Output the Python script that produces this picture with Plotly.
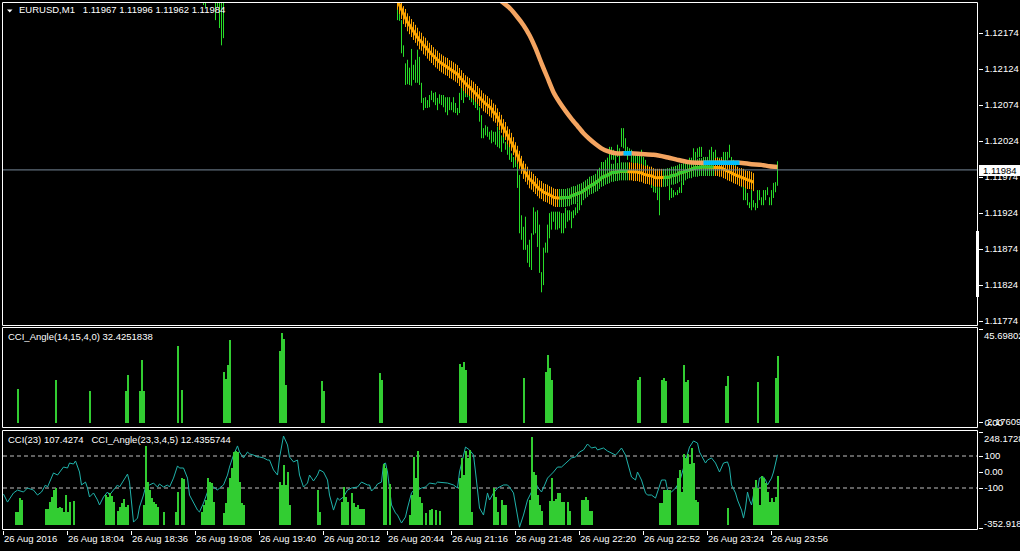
import plotly.graph_objects as go

W, H = 1020, 551


def px(x):
    return x / W


def py(y):
    return 1 - y / H


# one bar per minute, bar 0 = 26 Aug 2016 17:32
tick_idx = [0, 32, 64, 96, 128, 160, 192, 224, 256, 288, 320, 352, 384]
tick_txt = ['26 Aug 2016', '26 Aug 18:04', '26 Aug 18:36', '26 Aug 19:08', '26 Aug 19:40',
            '26 Aug 20:12', '26 Aug 20:44', '26 Aug 21:16', '26 Aug 21:48', '26 Aug 22:20',
            '26 Aug 22:52', '26 Aug 23:24', '26 Aug 23:56']

price_ticks = [1.11774, 1.11824, 1.11874, 1.11924, 1.11974, 1.12024, 1.12074, 1.12124, 1.12174]
last_close = 1.11984

# price bars that dip into view early on
early_idx = [97, 100, 101, 106, 107, 108, 109, 110]
early_high = [1.12238, 1.12241, 1.12236, 1.12244, 1.12239, 1.12235, 1.12230, 1.12233]
early_low = [1.12216, 1.12213, 1.12209, 1.12192, 1.12210, 1.12181, 1.12157, 1.12167]

# price bars from bar 197 to 387
bar_start = 197
highs = [
    1.12227, 1.12224, 1.12192, 1.12157, 1.12132, 1.12137, 1.12126, 1.12152, 1.12130, 1.12137,
    1.12151, 1.12141, 1.12105, 1.12084, 1.12085, 1.12081, 1.12088, 1.12094, 1.12091, 1.12092,
    1.12084, 1.12089, 1.12088, 1.12088, 1.12085, 1.12085, 1.12085, 1.12078, 1.12085, 1.12077,
    1.12070, 1.12091, 1.12099, 1.12102, 1.12099, 1.12102, 1.12092, 1.12095, 1.12088, 1.12087,
    1.12085, 1.12071, 1.12060, 1.12042, 1.12046, 1.12044, 1.12037, 1.12039, 1.12037, 1.12037,
    1.12044, 1.12039, 1.12032, 1.12030, 1.12023, 1.12023, 1.12016, 1.12007, 1.12002, 1.12007,
    1.11998, 1.11977, 1.11921, 1.11905, 1.11919, 1.11880, 1.11887, 1.11896, 1.11932, 1.11926,
    1.11928, 1.11908, 1.11842, 1.11876, 1.11883, 1.11908, 1.11924, 1.11926, 1.11926, 1.11926,
    1.11926, 1.11926, 1.11924, 1.11924, 1.11931, 1.11928, 1.11928, 1.11926, 1.11928, 1.11932,
    1.11938, 1.11942, 1.11949, 1.11956, 1.11959, 1.11963, 1.11967, 1.11973, 1.11976, 1.11978,
    1.11984, 1.11987, 1.11995, 1.11995, 1.11998, 1.12001, 1.12016, 1.12016, 1.12012, 1.12009,
    1.12019, 1.12014, 1.12042, 1.12042, 1.12028, 1.12016, 1.12014, 1.12012, 1.12007, 1.12005,
    1.12007, 1.12007, 1.12012, 1.12002, 1.11998, 1.11991, 1.11984, 1.11974, 1.11974, 1.11967,
    1.11960, 1.11960, 1.11980, 1.11980, 1.11981, 1.11977, 1.11970, 1.11959, 1.11956, 1.11953,
    1.11956, 1.11960, 1.11967, 1.11977, 1.11981, 1.11987, 1.12001, 1.12001, 1.12014, 1.12009,
    1.12014, 1.12016, 1.12016, 1.12002, 1.12002, 1.12002, 1.12012, 1.12016, 1.12009, 1.12012,
    1.12002, 1.12001, 1.12002, 1.12009, 1.12009, 1.12009, 1.12019, 1.12002, 1.11998, 1.11991,
    1.11988, 1.11984, 1.11980, 1.11963, 1.11963, 1.11952, 1.11939, 1.11956, 1.11942, 1.11938,
    1.11956, 1.11956, 1.11946, 1.11956, 1.11956, 1.11960, 1.11946, 1.11956, 1.11966, 1.11967,
    1.11996,
]
lows = [
    1.12192, 1.12191, 1.12146, 1.12141, 1.12102, 1.12103, 1.12102, 1.12101, 1.12109, 1.12105,
    1.12105, 1.12102, 1.12077, 1.12067, 1.12070, 1.12070, 1.12071, 1.12081, 1.12078, 1.12074,
    1.12067, 1.12076, 1.12074, 1.12071, 1.12064, 1.12060, 1.12067, 1.12067, 1.12064, 1.12063,
    1.12060, 1.12063, 1.12081, 1.12077, 1.12085, 1.12085, 1.12081, 1.12078, 1.12074, 1.12070,
    1.12067, 1.12051, 1.12028, 1.12028, 1.12032, 1.12030, 1.12026, 1.12021, 1.12023, 1.12019,
    1.12016, 1.12014, 1.12009, 1.12021, 1.12012, 1.12005, 1.11998, 1.11995, 1.11987, 1.11988,
    1.11959, 1.11896, 1.11887, 1.11873, 1.11873, 1.11855, 1.11849, 1.11845, 1.11894, 1.11896,
    1.11877, 1.11841, 1.11814, 1.11824, 1.11869, 1.11869, 1.11889, 1.11901, 1.11912, 1.11901,
    1.11901, 1.11903, 1.11896, 1.11896, 1.11903, 1.11912, 1.11914, 1.11903, 1.11917, 1.11921,
    1.11924, 1.11928, 1.11935, 1.11942, 1.11945, 1.11949, 1.11953, 1.11956, 1.11959, 1.11962,
    1.11967, 1.11973, 1.11980, 1.11980, 1.11981, 1.11984, 1.11988, 1.11998, 1.11998, 1.11991,
    1.12002, 1.11994, 1.12016, 1.12014, 1.12007, 1.11998, 1.12005, 1.11995, 1.11988, 1.11991,
    1.11988, 1.11988, 1.11988, 1.11980, 1.11984, 1.11977, 1.11970, 1.11959, 1.11953, 1.11952,
    1.11942, 1.11921, 1.11960, 1.11966, 1.11967, 1.11963, 1.11942, 1.11945, 1.11946, 1.11949,
    1.11949, 1.11952, 1.11952, 1.11963, 1.11970, 1.11977, 1.11984, 1.11988, 1.11994, 1.11998,
    1.12001, 1.12002, 1.12002, 1.11994, 1.11988, 1.11988, 1.11994, 1.11998, 1.11994, 1.11998,
    1.11988, 1.11988, 1.11988, 1.11995, 1.11994, 1.11998, 1.12001, 1.11988, 1.11984, 1.11980,
    1.11974, 1.11970, 1.11960, 1.11942, 1.11942, 1.11935, 1.11931, 1.11928, 1.11932, 1.11928,
    1.11931, 1.11942, 1.11935, 1.11935, 1.11942, 1.11949, 1.11935, 1.11935, 1.11945, 1.11953,
    1.11962,
]

# fast moving average (orange when falling, green when rising), bars 197..375
ma_start = 197
ma = [
    1.12219, 1.12213, 1.12206, 1.12199, 1.12195, 1.12189, 1.12185, 1.12181, 1.12177, 1.12173,
    1.12169, 1.12164, 1.12162, 1.12157, 1.12155, 1.12151, 1.12148, 1.12145, 1.12142, 1.12139,
    1.12137, 1.12134, 1.12132, 1.12130, 1.12128, 1.12127, 1.12124, 1.12123, 1.12121, 1.12119,
    1.12117, 1.12113, 1.12110, 1.12106, 1.12103, 1.12101, 1.12099, 1.12096, 1.12094, 1.12091,
    1.12088, 1.12085, 1.12082, 1.12078, 1.12076, 1.12074, 1.12071, 1.12069, 1.12064, 1.12062,
    1.12057, 1.12052, 1.12048, 1.12042, 1.12038, 1.12032, 1.12028, 1.12023, 1.12017, 1.12010,
    1.12005, 1.11998, 1.11991, 1.11984, 1.11980, 1.11976, 1.11971, 1.11969, 1.11966, 1.11963,
    1.11960, 1.11957, 1.11956, 1.11953, 1.11952, 1.11951, 1.11949, 1.11948, 1.11946, 1.11945,
    1.11945, 1.11945, 1.11945, 1.11945, 1.11945, 1.11946, 1.11946, 1.11948, 1.11949, 1.11949,
    1.11951, 1.11952, 1.11953, 1.11955, 1.11957, 1.11959, 1.11962, 1.11963, 1.11964, 1.11966,
    1.11967, 1.11970, 1.11973, 1.11974, 1.11976, 1.11977, 1.11978, 1.11980, 1.11980, 1.11981,
    1.11981, 1.11982, 1.11982, 1.11982, 1.11982, 1.11982, 1.11982, 1.11982, 1.11981, 1.11981,
    1.11981, 1.11980, 1.11980, 1.11978, 1.11977, 1.11977, 1.11976, 1.11976, 1.11974, 1.11973,
    1.11973, 1.11973, 1.11973, 1.11973, 1.11973, 1.11974, 1.11974, 1.11976, 1.11976, 1.11977,
    1.11978, 1.11980, 1.11980, 1.11981, 1.11982, 1.11984, 1.11985, 1.11985, 1.11987, 1.11987,
    1.11987, 1.11988, 1.11988, 1.11988, 1.11988, 1.11988, 1.11988, 1.11988, 1.11988, 1.11988,
    1.11988, 1.11987, 1.11987, 1.11985, 1.11984, 1.11982, 1.11981, 1.11980, 1.11978, 1.11977,
    1.11976, 1.11974, 1.11974, 1.11973, 1.11971, 1.11970, 1.11970, 1.11969, 1.11967,
]
ma_up = [(278, 312), (330, 355)]
band = 0.000125

# slow moving average
slow_idx = [245, 248, 250, 253, 257, 260, 263, 266, 269, 272, 275, 278, 281, 284, 287, 290, 293,
            296, 299, 302, 306, 310, 314, 319, 325, 331, 337, 342, 347, 354, 361, 368, 374, 379,
            383, 387]
slow_val = [1.12228, 1.12220, 1.12216, 1.12209, 1.12196, 1.12185, 1.12171, 1.12153, 1.12132,
            1.12112, 1.12092, 1.12078, 1.12066, 1.12055, 1.12045, 1.12035, 1.12027, 1.12020,
            1.12014, 1.12010, 1.12007, 1.12007, 1.12007, 1.12006, 1.12005, 1.12002, 1.11998,
            1.11995, 1.11994, 1.11994, 1.11994, 1.11994, 1.11992, 1.11991, 1.11989, 1.11988]
flat_idx = [310, 314, None, 350, 368]
flat_val = [1.12007, 1.12007, None, 1.11994, 1.11994]

# CCI_Angle(14,15,4,0)
ang1_idx = [7, 26, 43, 61, 62, 68, 69, 70, 87, 89, 110, 111, 112, 113, 138, 139, 140, 141, 159,
            160, 188, 189, 228, 229, 230, 231, 260, 271, 272, 273, 274, 317, 318, 329, 330, 331,
            340, 341, 342, 361, 362, 377, 386, 387]
ang1_val = [16.5, 20.9, 15.6, 15.6, 23.3, 15.6, 30.6, 15.6, 37.5, 16.1, 24.8, 21.4, 28.2, 40.4,
            35.0, 43.8, 40.9, 18.5, 20.4, 15.6, 24.3, 20.9, 28.7, 27.2, 29.7, 25.8, 21.9, 24.8,
            33.1, 26.8, 20.9, 20.9, 22.4, 20.9, 21.9, 20.4, 28.2, 19.9, 20.9, 18.0, 22.9, 19.9,
            21.9, 32.43]

# CCI_Angle(23,3,4,5)
ang2_idx = [6, 7, 8, 9, 21, 22, 23, 24, 25, 26, 27, 28, 29, 30, 31, 32, 33, 35, 51, 52, 53, 54,
            55, 57, 58, 59, 60, 61, 62, 70, 71, 72, 73, 74, 75, 76, 77, 80, 86, 87, 89, 90, 99,
            100, 101, 102, 103, 104, 105, 110, 111, 112, 113, 114, 115, 116, 117, 118, 119, 120,
            138, 139, 140, 141, 142, 143, 157, 158, 169, 170, 171, 172, 174, 175, 176, 177, 178,
            179, 180, 190, 191, 193, 203, 204, 205, 206, 207, 208, 209, 211, 213, 214, 216, 218,
            228, 229, 230, 231, 232, 233, 234, 245, 246, 247, 249, 250, 251, 263, 264, 265, 266,
            267, 268, 269, 273, 274, 275, 276, 277, 278, 279, 280, 282, 283, 289, 290, 291, 292,
            293, 294, 328, 329, 330, 331, 332, 333, 337, 338, 339, 340, 341, 342, 343, 344, 345,
            346, 347, 362, 375, 376, 377, 378, 379, 380, 381, 382, 383, 384, 385, 386, 387]
ang2_val = [3.3, 3.3, 6.9, 6.3, 4.1, 4.1, 5.8, 7.1, 8.9, 9.4, 4.3, 4.6, 4.3, 3.3, 7.6, 3.3, 5.8,
            6.1, 7.6, 7.1, 8.1, 7.4, 5.8, 3.6, 4.6, 5.6, 6.6, 4.6, 5.1, 5.1, 20.1, 10.9, 8.9, 6.9,
            5.8, 5.3, 4.6, 3.3, 3.3, 8.4, 11.9, 11.7, 3.3, 5.1, 6.3, 11.9, 10.9, 10.7, 5.8, 3.0,
            5.6, 9.4, 11.9, 14.5, 18.5, 18.8, 18.5, 10.9, 5.6, 5.1, 10.9, 10.2, 15.2, 10.2, 13.5,
            5.1, 8.9, 3.3, 5.8, 9.6, 7.1, 5.8, 8.1, 5.6, 4.6, 5.1, 4.1, 4.1, 4.1, 15.5, 14.5, 10.4,
            2.5, 7.6, 17.3, 11.9, 18.8, 7.1, 5.6, 3.0, 3.8, 4.1, 3.8, 3.6, 11.9, 17.0, 12.7, 18.8,
            17.0, 19.0, 3.3, 9.4, 7.1, 3.3, 6.3, 5.1, 5.1, 6.3, 22.3, 13.5, 12.7, 7.6, 5.1, 3.6,
            6.1, 11.9, 6.1, 6.6, 8.1, 8.1, 5.8, 5.8, 5.8, 3.6, 6.3, 6.3, 7.1, 6.3, 3.6, 3.6, 5.6,
            5.6, 8.9, 8.9, 8.9, 8.9, 11.9, 14.0, 8.4, 18.0, 17.0, 18.0, 15.5, 19.5, 15.7, 6.3, 5.8,
            4.3, 9.4, 11.4, 9.4, 5.1, 12.4, 11.9, 10.7, 8.4, 5.8, 6.9, 5.8, 7.1, 12.44]

# CCI(23)
cci_idx = [0, 2, 5, 7, 10, 12, 15, 17, 19, 21, 22, 25, 27, 28, 30, 32, 33, 35, 36, 38, 39, 41, 42,
           43, 45, 47, 48, 50, 52, 53, 55, 57, 58, 60, 62, 63, 64, 65, 67, 68, 70, 71, 73, 75, 77,
           78, 80, 82, 83, 85, 87, 88, 90, 92, 93, 95, 97, 98, 100, 102, 103, 105, 107, 108, 110,
           112, 113, 115, 117, 118, 120, 122, 123, 125, 127, 128, 130, 132, 133, 135, 137, 138,
           140, 142, 143, 145, 147, 148, 150, 152, 153, 155, 157, 158, 160, 162, 163, 165, 167,
           168, 170, 172, 174, 177, 179, 182, 183, 184, 186, 187, 189, 190, 191, 192, 193, 194,
           196, 197, 199, 201, 202, 204, 206, 207, 209, 211, 213, 216, 217, 220, 222, 225, 227,
           228, 230, 231, 233, 235, 236, 237, 238, 240, 241, 242, 243, 245, 247, 248, 250, 252,
           253, 255, 256, 257, 258, 260, 261, 262, 264, 266, 267, 269, 271, 272, 275, 277, 279,
           282, 284, 286, 288, 290, 292, 294, 296, 297, 300, 302, 304, 306, 307, 309, 311, 312,
           314, 316, 317, 319, 321, 322, 324, 326, 327, 329, 331, 332, 334, 336, 338, 340, 342,
           343, 345, 347, 348, 351, 352, 354, 356, 358, 360, 362, 363, 364, 366, 367, 369, 370,
           371, 372, 373, 374, 375, 377, 378, 380, 381, 382, 384, 385, 387]
cci_val = [-138, -188, -131, -113, -125, -100, -113, -144, -125, -81, -94, -6, -19, 0, 31, 25, 56,
           50, 69, 0, -81, -63, -100, -156, -131, -175, -206, -156, -125, -144, -113, -81, -94,
           -56, -13, -63, -188, -313, -288, -219, -144, -94, -81, -69, -94, -75, -94, -81, -94,
           -38, 38, 25, 25, -38, -144, -188, -238, -250, -194, -125, -113, -94, -113, -100, -81,
           -19, 31, 106, 163, 125, 88, 125, 113, 106, 94, 94, 88, 75, 75, 13, -19, 88, 225, 169,
           94, 63, 75, -19, -94, -69, -19, -56, -19, 13, 0, -50, -144, -238, -163, -175, -156,
           -113, -100, -94, -63, -81, -81, -119, -94, -75, -63, 50, 56, 0, -100, -206, -256, -269,
           -319, -281, -225, -131, -100, -113, -100, -94, -69, -75, -63, -69, -69, -81, -100, 0,
           106, 156, 138, 106, 0, -125, -225, -269, -188, -131, -175, -131, -100, -94, -81, -81,
           -94, -131, -206, -281, -345, -269, -219, -175, -125, -63, -94, -125, -69, -38, 0, 31,
           31, 63, 88, 94, 125, 138, 175, 150, 156, 138, 150, 131, 119, 106, 119, 150, 106, 56,
           -31, -50, 0, -50, -131, -144, -144, -163, -125, -50, -50, -113, -125, -100, -63, 25,
           106, 156, 194, 181, 125, 56, 75, 88, 56, 0, 56, 63, 25, -81, -131, -175, -238, -288,
           -225, -125, -175, -206, -144, -113, -38, -31, -50, -81, -38, 0, 107.4274]

FONT = 'Liberation Sans, Arial, sans-serif'
GREEN_BAR = '#28DC28'
LIME = '#32CD32'
ORANGE = '#FFA500'

fig = go.Figure()

# price bars
bx, by = [], []
for i, lo, hi in zip(early_idx, early_low, early_high):
    bx += [i, i, None]
    by += [lo, hi, None]
for k, (lo, hi) in enumerate(zip(lows, highs)):
    bx += [bar_start + k, bar_start + k, None]
    by += [lo, hi, None]
fig.add_trace(go.Scatter(x=bx, y=by, mode='lines', line=dict(color=GREEN_BAR, width=1),
                         xaxis='x', yaxis='y'))

# moving average band (hatched) and line
ma_idx = [ma_start + k for k in range(len(ma))]
is_up = [any(a <= i <= b for a, b in ma_up) for i in ma_idx]
for up, col in [(False, ORANGE), (True, LIME)]:
    hx = [i for i, u in zip(ma_idx, is_up) if u == up]
    hy = [v for v, u in zip(ma, is_up) if u == up]
    fig.add_trace(go.Scatter(x=hx, y=hy, mode='markers', marker=dict(size=0.1, opacity=0),
                             error_y=dict(type='constant', value=band, color=col,
                                          thickness=1, width=0),
                             xaxis='x', yaxis='y'))
fig.add_trace(go.Scatter(x=ma_idx, y=ma, mode='lines', line=dict(color=ORANGE, width=3),
                         xaxis='x', yaxis='y'))
for a, b in ma_up:
    seg = [(i, v) for i, v in zip(ma_idx, ma) if a <= i <= b]
    fig.add_trace(go.Scatter(x=[s[0] for s in seg], y=[s[1] for s in seg], mode='lines',
                             line=dict(color=LIME, width=3), xaxis='x', yaxis='y'))

# slow average
fig.add_trace(go.Scatter(x=slow_idx, y=slow_val, mode='lines',
                         line=dict(color='#F4A460', width=4.5, shape='spline', smoothing=0.6),
                         xaxis='x', yaxis='y'))
fig.add_trace(go.Scatter(x=flat_idx, y=flat_val, mode='lines',
                         line=dict(color='#00BFFF', width=4.5), xaxis='x', yaxis='y'))

# CCI_Angle(14,15,4,0)
fig.add_trace(go.Bar(x=ang1_idx, y=ang1_val, width=1, marker=dict(color=LIME, line_width=0),
                     xaxis='x2', yaxis='y2'))

# CCI_Angle(23,3,4,5) + CCI(23)
fig.add_trace(go.Bar(x=ang2_idx, y=ang2_val, width=1, marker=dict(color=LIME, line_width=0),
                     xaxis='x3', yaxis='y4'))
fig.add_trace(go.Scatter(x=cci_idx, y=cci_val, mode='lines',
                         line=dict(color='#20B2AA', width=1), xaxis='x3', yaxis='y3'))

xdom = [px(2.5), px(977.5)]
xrange = [-0.5, 487]
base_x = dict(domain=xdom, range=xrange, showgrid=False, zeroline=False, showline=False,
              showticklabels=False, ticks='', fixedrange=True)
tick_font = dict(family=FONT, size=9.5, color='white')
base_y = dict(side='right', showgrid=False, zeroline=False, showline=False, ticks='outside',
              ticklen=4, tickcolor='white', tickwidth=1, tickfont=tick_font, fixedrange=True,
              automargin=False)

fig.update_layout(
    width=W, height=H,
    margin=dict(l=0, r=0, t=0, b=0, pad=0),
    paper_bgcolor='black', plot_bgcolor='black',
    showlegend=False, bargap=0, hovermode=False,
    font=dict(family=FONT, size=9.5, color='white'),
    xaxis=dict(base_x, anchor='y'),
    xaxis2=dict(base_x, anchor='y2'),
    xaxis3=dict(base_x, anchor='y3', showticklabels=True, ticks='outside', ticklen=4,
                tickcolor='white', tickvals=tick_idx, ticktext=tick_txt, tickfont=tick_font,
                ticklabelposition='outside right', tickangle=0, automargin=False),
    yaxis=dict(base_y, anchor='x', domain=[py(325), py(2)], range=[1.117686, 1.122172],
               tickvals=price_ticks, ticktext=['%.5f' % v for v in price_ticks]),
    yaxis2=dict(base_y, anchor='x2', domain=[py(427), py(327)], range=[-1.95, 46.69],
                tickvals=[45.69802, 0], ticktext=['', '0.00']),
    yaxis3=dict(base_y, anchor='x3', domain=[py(530), py(430)], range=[-362.5, 262.5],
                tickvals=[248.1728, 100, 0, -100, -352.9186], ticktext=['', '100', '0.00', '-100', '']),
    yaxis4=dict(overlaying='y3', anchor='x3', range=[-1.27, 24.11], visible=False, fixedrange=True),
)

shapes = []
for top, bot in [(2.5, 325.5), (327.5, 427.5), (430.5, 529.5)]:
    shapes.append(dict(type='rect', xref='paper', yref='paper', x0=px(2.5), x1=px(977.5),
                       y0=py(bot), y1=py(top), line=dict(color='white', width=1), layer='above'))
for lvl in [100, -100]:
    shapes.append(dict(type='line', xref='paper', yref='y3', x0=px(3), x1=px(977), y0=lvl, y1=lvl,
                       line=dict(color='#C0C0C0', width=1, dash='4px,3px'), layer='below'))
shapes.append(dict(type='line', xref='paper', yref='y', x0=px(3), x1=px(977), y0=last_close,
                   y1=last_close, line=dict(color='#778899', width=1), layer='above'))
shapes.append(dict(type='rect', xref='paper', yref='paper', x0=px(976), x1=px(979), y0=py(297),
                   y1=py(231), line_width=0, fillcolor='white', layer='above'))
shapes.append(dict(type='rect', xref='paper', yref='paper', x0=px(979), x1=px(1020), y0=py(176),
                   y1=py(165), line_width=0, fillcolor='white', layer='above'))
shapes.append(dict(type='path', xref='paper', yref='paper',
                   path='M %f,%f L %f,%f L %f,%f Z' % (px(7), py(9.5), px(12.5), py(9.5),
                                                      px(9.75), py(12.5)),
                   fillcolor='white', line_width=0, layer='above'))
fig.update_layout(shapes=shapes)


def label(x, y, text, color='white'):
    return dict(xref='paper', yref='paper', x=px(x), y=py(y), text=text, showarrow=False,
                xanchor='left', yanchor='middle', font=dict(family=FONT, size=9.5, color=color))


fig.update_layout(annotations=[
    label(17, 10, 'EURUSD,M1\u00a0\u00a0 1.11967 1.11996 1.11962 1.11984'),
    label(6, 336, 'CCI_Angle(14,15,4,0) 32.4251838'),
    label(6, 440, 'CCI(23) 107.4274\u00a0\u00a0 CCI_Angle(23,3,4,5) 12.4355744'),
    label(981, 170.5, '1.11984', color='black'),
    label(982, 335, '45.69802'),
    label(985, 421, '2.176096'),
    label(982, 438, '248.1728'),
    label(982, 523, '-352.9186'),
])

fig.write_html('out.html', config={'displayModeBar': False},
               post_script="document.body.style.margin='0px';document.body.style.overflow='hidden';")
